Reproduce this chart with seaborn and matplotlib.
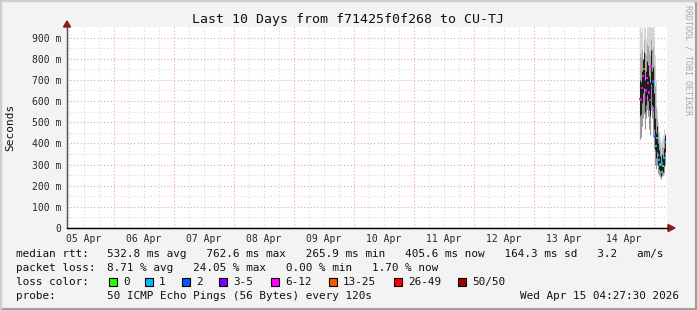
import numpy as np
import pandas as pd
import seaborn as sns
import matplotlib
matplotlib.use("Agg")
import matplotlib.pyplot as plt
from matplotlib.patches import Rectangle, Polygon

# ---------------- data ----------------
day_labels = ["05 Apr", "06 Apr", "07 Apr", "08 Apr", "09 Apr",
              "10 Apr", "11 Apr", "12 Apr", "13 Apr", "14 Apr"]
y_tick_values = [0, 100, 200, 300, 400, 500, 600, 700, 800, 900]
y_tick_labels = ["0", "100 m", "200 m", "300 m", "400 m", "500 m",
                 "600 m", "700 m", "800 m", "900 m"]

# sample times: hours since 14 Apr 00:00
hours = [18.4, 18.8, 19.2, 19.6, 20.0, 20.4, 20.8, 21.2, 21.6, 22.0, 22.4, 22.8, 23.2,
         23.6, 24.0, 24.4, 24.8, 25.2, 25.6, 26.0, 26.4, 26.8, 27.2, 27.6, 28.0, 28.4]
median_ms = [610, 606, 663, 720, 753, 616, 650, 710, 687, 640, 606, 763, 663,
             692, 559, 436, 388, 426, 345, 322, 300, 265, 309, 294, 330, 405]
loss_cat = ["6-12", "6-12", "6-12", "6-12", "13-25", "6-12", "6-12", "6-12", "6-12",
            "6-12", "6-12", "6-12", "2", "2", "3-5", "2", "1", "1", "1", "1",
            "1", "1", "1", "0", "1", "1"]
smoke_min = [420, 430, 480, 520, 540, 470, 520, 560, 530, 470, 440, 560, 520,
             430, 380, 300, 280, 300, 260, 250, 240, 230, 245, 250, 260, 300]
smoke_q1 = [530, 540, 590, 640, 660, 550, 580, 630, 600, 560, 530, 680, 580,
            570, 470, 370, 330, 360, 300, 280, 265, 245, 275, 265, 295, 360]
smoke_q3 = [700, 690, 740, 800, 830, 700, 740, 790, 770, 720, 690, 840, 740,
            760, 640, 520, 450, 480, 400, 370, 340, 300, 350, 330, 380, 440]
smoke_max = [950, 930, 950, 800, 950, 950, 900, 950, 950, 950, 950, 950, 950,
             950, 900, 820, 700, 560, 500, 460, 430, 400, 420, 440, 470, 450]

loss_names = ["0", "1", "2", "3-5", "6-12", "13-25", "26-49", "50/50"]
loss_colors = ["#26ff00", "#00b8ff", "#0059ff", "#7e00ff", "#ff00ff",
               "#ff5500", "#ff0000", "#a10000"]
loss_box_x = [109, 145, 182, 219, 271, 329, 394, 458]

rtt_line = ("532.8 ms avg   762.6 ms max   265.9 ms min   405.6 ms now   "
            "164.3 ms sd   3.2   am/s")
loss_line = "8.71 % avg   24.05 % max   0.00 % min   1.70 % now"
title = "Last 10 Days from f71425f0f268 to CU-TJ"
probe_text = "50 ICMP Echo Pings (56 Bytes) every 120s"
stamp = "Wed Apr 15 04:27:30 2026"

# ---------------- layout ----------------
W, H = 697, 310
sns.set_style("white")
plt.rcParams["font.family"] = ["DejaVu Sans Mono", "DejaVu Sans"]
fig = plt.figure(figsize=(W / 100, H / 100), dpi=100)
fig.patch.set_facecolor("#f3f3f3")


def fx(x):
    return x / W


def fy(y):
    return 1 - y / H


# frame shading
fig.patches.append(Rectangle((0, 0), 1, 1, transform=fig.transFigure, fill=False,
                             edgecolor="#9e9e9e", linewidth=3))
fig.add_artist(plt.Line2D([0, 0], [0, 1], transform=fig.transFigure, color="#cfcfcf", lw=3))
fig.add_artist(plt.Line2D([0, 1], [1, 1], transform=fig.transFigure, color="#cfcfcf", lw=3))

L, R, T, B = 67, 667, 27, 228
ax = fig.add_axes([fx(L), fy(B), (R - L) / W, (B - T) / H])
ax.set_facecolor("white")
x0 = 13 / 60.0  # left edge in days since 05 Apr 00:00
ax.set_xlim(x0, x0 + 10)
ax.set_ylim(0, 950)

# grid
for d in np.arange(0, 11, 0.25):
    if x0 < d < x0 + 10:
        major = abs(d - round(d)) < 1e-9
        ax.axvline(d, color="#f4a0a0" if major else "#d8d8d8", lw=0.8,
                   ls=(0, (1, 2)), zorder=1)
for v in range(50, 950, 50):
    major = v % 100 == 0
    ax.axhline(v, color="#f4a0a0" if major else "#d8d8d8", lw=0.8,
               ls=(0, (1, 2)), zorder=1)

# data frame
xd = [9 + h / 24.0 for h in hours]
df = pd.DataFrame({"x": xd, "median": median_ms, "loss": loss_cat,
                   "lo": smoke_min, "q1": smoke_q1, "q3": smoke_q3, "hi": smoke_max})

# smoke
LW = 0.75
ax.vlines(df["x"], df["lo"], df["hi"], color="#d4d4d4", lw=LW, zorder=2)
ax.vlines(df["x"], df["lo"], df["q1"], color="#9a9a9a", lw=LW, zorder=3)
ax.vlines(df["x"], df["q3"], df["hi"] - (df["hi"] - df["q3"]) * 0.5, color="#a8a8a8",
          lw=LW, zorder=3)
ax.vlines(df["x"], df["q1"], df["q3"], color="#1e1e1e", lw=LW, zorder=4)

# median points coloured by loss
sns.scatterplot(data=df, x="x", y="median", hue="loss", hue_order=loss_names,
                palette=dict(zip(loss_names, loss_colors)), marker="s", s=2.5,
                linewidth=0, legend=False, ax=ax, zorder=6)

# axes / ticks
for s in ["top", "right"]:
    ax.spines[s].set_visible(False)
ax.spines["left"].set_color("#555555")
ax.spines["left"].set_linewidth(0.9)
ax.spines["bottom"].set_color("#000000")
ax.spines["bottom"].set_linewidth(0.9)
ax.set_xticks([i + 0.5 for i in range(10)])
ax.set_xticklabels(day_labels, fontsize=7)
ax.set_yticks(y_tick_values)
ax.set_yticklabels(y_tick_labels, fontsize=7)
ax.tick_params(axis="both", length=0, pad=4)
ax.set_xlabel("")
ax.set_ylabel("")

# axis arrows
fig.patches.append(Polygon([[fx(L - 3.5), fy(27)], [fx(L + 3.5), fy(27)], [fx(L), fy(21)]],
                           closed=True, transform=fig.transFigure, color="#8b1a1a"))
fig.patches.append(Polygon([[fx(668), fy(B - 3.5)], [fx(668), fy(B + 3.5)], [fx(675), fy(B)]],
                           closed=True, transform=fig.transFigure, color="#8b1a1a"))
fig.add_artist(plt.Line2D([fx(L), fx(L)], [fy(B), fy(27)], transform=fig.transFigure,
                          color="#555555", lw=0.9))
fig.add_artist(plt.Line2D([fx(L), fx(668)], [fy(B), fy(B)], transform=fig.transFigure,
                          color="#000000", lw=0.9))

# texts
fig.text(fx(348), fy(19), title, ha="center", va="center", fontsize=9.5, color="#111111")
fig.text(fx(10), fy(127), "Seconds", ha="center", va="center", rotation=90,
         fontsize=8, color="#111111")
fig.text(fx(688), fy(5), "RRDTOOL / TOBI OETIKER", ha="center", va="top", rotation=270,
         fontsize=6, color="#a8a8a8")

LF = 7.9
fig.text(fx(16), fy(254), "median rtt:", ha="left", va="center", fontsize=LF, color="#111111")
fig.text(fx(107), fy(254), rtt_line, ha="left", va="center", fontsize=LF, color="#111111")
fig.text(fx(16), fy(268), "packet loss:", ha="left", va="center", fontsize=LF, color="#111111")
fig.text(fx(107), fy(268), loss_line, ha="left", va="center", fontsize=LF, color="#111111")
fig.text(fx(16), fy(282), "loss color:", ha="left", va="center", fontsize=LF, color="#111111")
for name, col, bx in zip(loss_names, loss_colors, loss_box_x):
    fig.patches.append(Rectangle((fx(bx), fy(286)), 8 / W, 8 / H, transform=fig.transFigure,
                                 facecolor=col, edgecolor="black", linewidth=0.8))
    fig.text(fx(bx + 14), fy(282), name, ha="left", va="center", fontsize=LF, color="#111111")
fig.text(fx(16), fy(296), "probe:", ha="left", va="center", fontsize=LF, color="#111111")
fig.text(fx(107), fy(296), probe_text, ha="left", va="center", fontsize=LF, color="#111111")
fig.text(fx(679), fy(296), stamp, ha="right", va="center", fontsize=LF, color="#111111")

fig.savefig("out.png", dpi=100, facecolor=fig.get_facecolor())
